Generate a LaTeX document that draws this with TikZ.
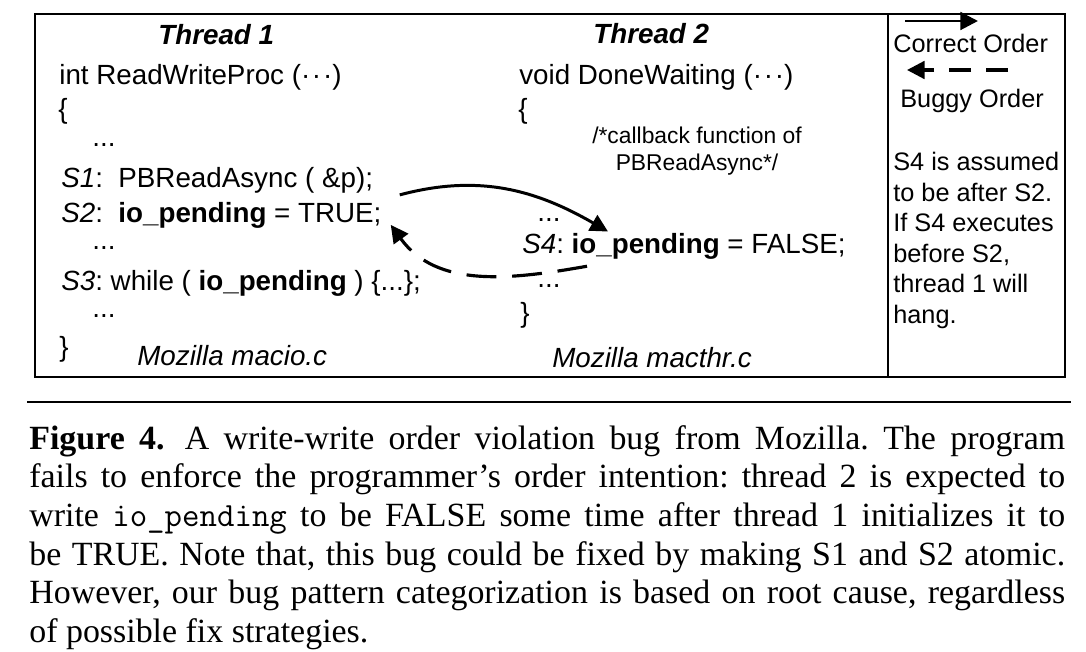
\documentclass[tikz,border=0pt]{standalone}
\usepackage{fontspec}
\setmainfont{Liberation Serif}
\setsansfont{Liberation Sans}
\usetikzlibrary{arrows.meta,calc}
\frenchspacing

\begin{document}
\begin{tikzpicture}[x=0.02cm,y=0.02cm,
codeline/.style={anchor=base west,inner sep=0pt,font=\sffamily\fontsize{15.8}{18}\selectfont},
threadname/.style={codeline,font=\sffamily\bfseries\itshape\fontsize{15.8}{18}\selectfont},
filename/.style={codeline,font=\sffamily\itshape\fontsize{15.8}{18}\selectfont},
comment/.style={anchor=base,inner sep=0pt,font=\sffamily\fontsize{13}{15}\selectfont},
legend/.style={anchor=base west,inner sep=0pt,font=\sffamily\fontsize{14.4}{17.35}\selectfont},
caption/.style={anchor=north west,inner sep=0pt,text width=20.72cm,align=justify,font=\fontsize{19.3}{22}\selectfont},
okarrow/.style={line width=1.7pt,-{Triangle[length=10pt,width=10pt]}},
bugarrow/.style={line width=1.8pt,dash pattern=on 17pt off 9pt,-{Triangle[length=10pt,width=10pt]}},
]
\useasboundingbox (0,0) rectangle (1086,-652);

% frame
\draw[line width=0.85pt] (35,-14) rectangle (1065,-377);
\draw[line width=0.85pt] (888,-14) -- (888,-377);

% thread 1
\node[threadname] (t1) at (158,-45) {Thread 1};
\node[codeline] (f1) at (59,-85) {int ReadWriteProc (·\kern1pt·\kern1pt·)};
\node[codeline] (o1) at (58,-119) {\{};
\node[codeline] (d1) at (92,-147) {...};
\node[codeline] (s1) at (61,-188) {\textit{S1}:\ \ PBReadAsync ( \&p);};
\node[codeline] (s2) at (61,-222) {\textit{S2}:\ \ \textbf{io\_pending} = TRUE;};
\node[codeline] (d2) at (92,-250) {...};
\node[codeline] (s3) at (61,-290) {\textit{S3}: while ( \textbf{io\_pending} ) \{...\};};
\node[codeline] (d3) at (92,-317) {...};
\node[codeline] (c1) at (59,-356) {\}};
\node[filename] (m1) at (137,-365) {Mozilla macio.c};

% thread 2
\node[threadname] (t2) at (593,-44) {Thread 2};
\node[codeline] (f2) at (519,-85) {void DoneWaiting (·\kern1pt·\kern1pt·)};
\node[codeline] (o2) at (518,-119) {\{};
\node[comment] (r1) at (697,-144) {/*callback function of};
\node[comment] (r2) at (697,-171) {PBReadAsync*/};
\node[codeline] (d4) at (537,-221) {...};
\node[codeline] (s4) at (522,-254) {\textit{S4}: \textbf{io\_pending} = FALSE;};
\node[codeline] (d5) at (537,-287) {...};
\node[codeline] (c2) at (520,-322) {\}};
\node[filename] (m2) at (552,-367) {Mozilla macthr.c};

% orders
\draw[okarrow] ($(s2.east)+(18,20)$) to[out=15,in=150] ($(s4.north west)+(86,2)$);
\draw[bugarrow] ($(s4.south west)+(65,-6)$) to[out=190,in=-54] ($(s2.east)+(9,-10)$);

% legend
\coordinate (ok0) at (905,-21);
\coordinate (ok1) at (978,-21);
\coordinate (bug0) at (1008,-70);
\coordinate (bug1) at (907,-70);
\draw[okarrow] (ok0) -- (ok1);
\node[legend] (okl) at (893,-53) {Correct Order};
\draw[bugarrow,dash pattern=on 12.5pt off 8.5pt] (bug0) -- (bug1);
\node[legend] (bugl) at (900,-108) {Buggy Order};
\node[legend,anchor=north west,align=left] (why) at (893,-152)
  {S4 is assumed\\to be after S2.\\If S4 executes\\before S2,\\thread 1 will\\hang.};

% caption
\draw[line width=1.4pt] (27,-402) -- (1071,-402);
\node[caption] (cap) at (29,-425) {\textbf{Figure 4.}\hspace{0.6em}A write-write order violation bug from Mozilla. The program\linebreak
fails to enforce the programmer's order intention: thread 2 is expected to\linebreak
write \texttt{io\_pending} to be FALSE some time after thread 1 initializes it to\linebreak
be TRUE. Note that, this bug could be fixed by making S1 and S2 atomic.\linebreak
However, our bug pattern categorization is based on root cause, regardless\linebreak
of possible fix strategies.};

\end{tikzpicture}
\end{document}
